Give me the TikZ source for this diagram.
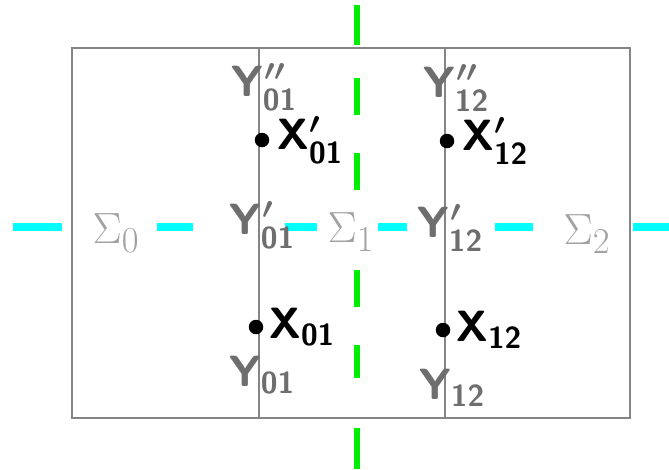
\documentclass[tikz,border=0pt]{standalone}
\usetikzlibrary{positioning}
\usepackage{xcolor}
\definecolor{Frame}{HTML}{858585}
\definecolor{Port}{HTML}{6E6E6E}
\definecolor{Zone}{HTML}{A2A2A2}
\definecolor{Cut}{HTML}{00EE00}
\definecolor{Sweep}{HTML}{00FFFF}
\tikzset{
  frame/.style={Frame,line width=0.6pt},
  cutline/.style={Cut,line width=3.8pt},
  sweepline/.style={Sweep,line width=4.2pt},
  joint/.style={circle,fill=black,minimum size=2.9mm,inner sep=0pt},
  site/.style={inner sep=0pt,font=\fontsize{26}{28}\selectfont\boldmath},
  port/.style={inner sep=0pt,text=Port,font=\fontsize{27}{29}\selectfont\boldmath},
  zone/.style={inner sep=0pt,text=Zone,font=\fontsize{30}{32}\selectfont}
}

\begin{document}
\begin{tikzpicture}[x=0.2mm,y=-0.2mm]
\useasboundingbox (0,0) rectangle (669,469);
% cells
\draw[frame] (72,48) rectangle (630,418);
\draw[frame] (259,48) -- (259,418);
\draw[frame] (445,48) -- (445,418);
% the two cuts
\foreach \a/\b in {5/45,78/115,153/190,270/307,345/378,428/469}
  \draw[cutline] (357,\a) -- (357,\b);
\foreach \a/\b in {13/62,157/193,285/317,378/407,495/533,633/669}
  \draw[sweepline] (\a,227) -- (\b,227);
% regions
\node[zone] (s0) at (116,233) {$\Sigma_0$};
\node[zone] (s1) at (351,232) {$\Sigma_1$};
\node[zone] (s2) at (587,234) {$\Sigma_2$};
% interface points
\node[joint] (x01p) at (262,140) {};
\node[joint] (x12p) at (447,141) {};
\node[joint] (x01) at (256,327) {};
\node[joint] (x12) at (443,330) {};
\node[site,right=1.4mm of x01p] (lx01p) {$\mathsf{X}'_{\mathsf{01}}$};
\node[site,right=1.4mm of x12p] (lx12p) {$\mathsf{X}'_{\mathsf{12}}$};
\node[site,right=1mm of x01] (lx01) {$\mathsf{X}_{\mathsf{01}}$};
\node[site,right=1mm of x12] (lx12) {$\mathsf{X}_{\mathsf{12}}$};
% interface labels
\node[port] (y01pp) at (264,87) {$\mathsf{Y}''_{\mathsf{01}}$};
\node[port] (y12pp) at (456,88) {$\mathsf{Y}''_{\mathsf{12}}$};
\node[port] (y01p) at (262,225) {$\mathsf{Y}'_{\mathsf{01}}$};
\node[port] (y12p) at (450,228) {$\mathsf{Y}'_{\mathsf{12}}$};
\node[port] (y01) at (262,375) {$\mathsf{Y}_{\mathsf{01}}$};
\node[port] (y12) at (452,388) {$\mathsf{Y}_{\mathsf{12}}$};
\end{tikzpicture}
\end{document}
